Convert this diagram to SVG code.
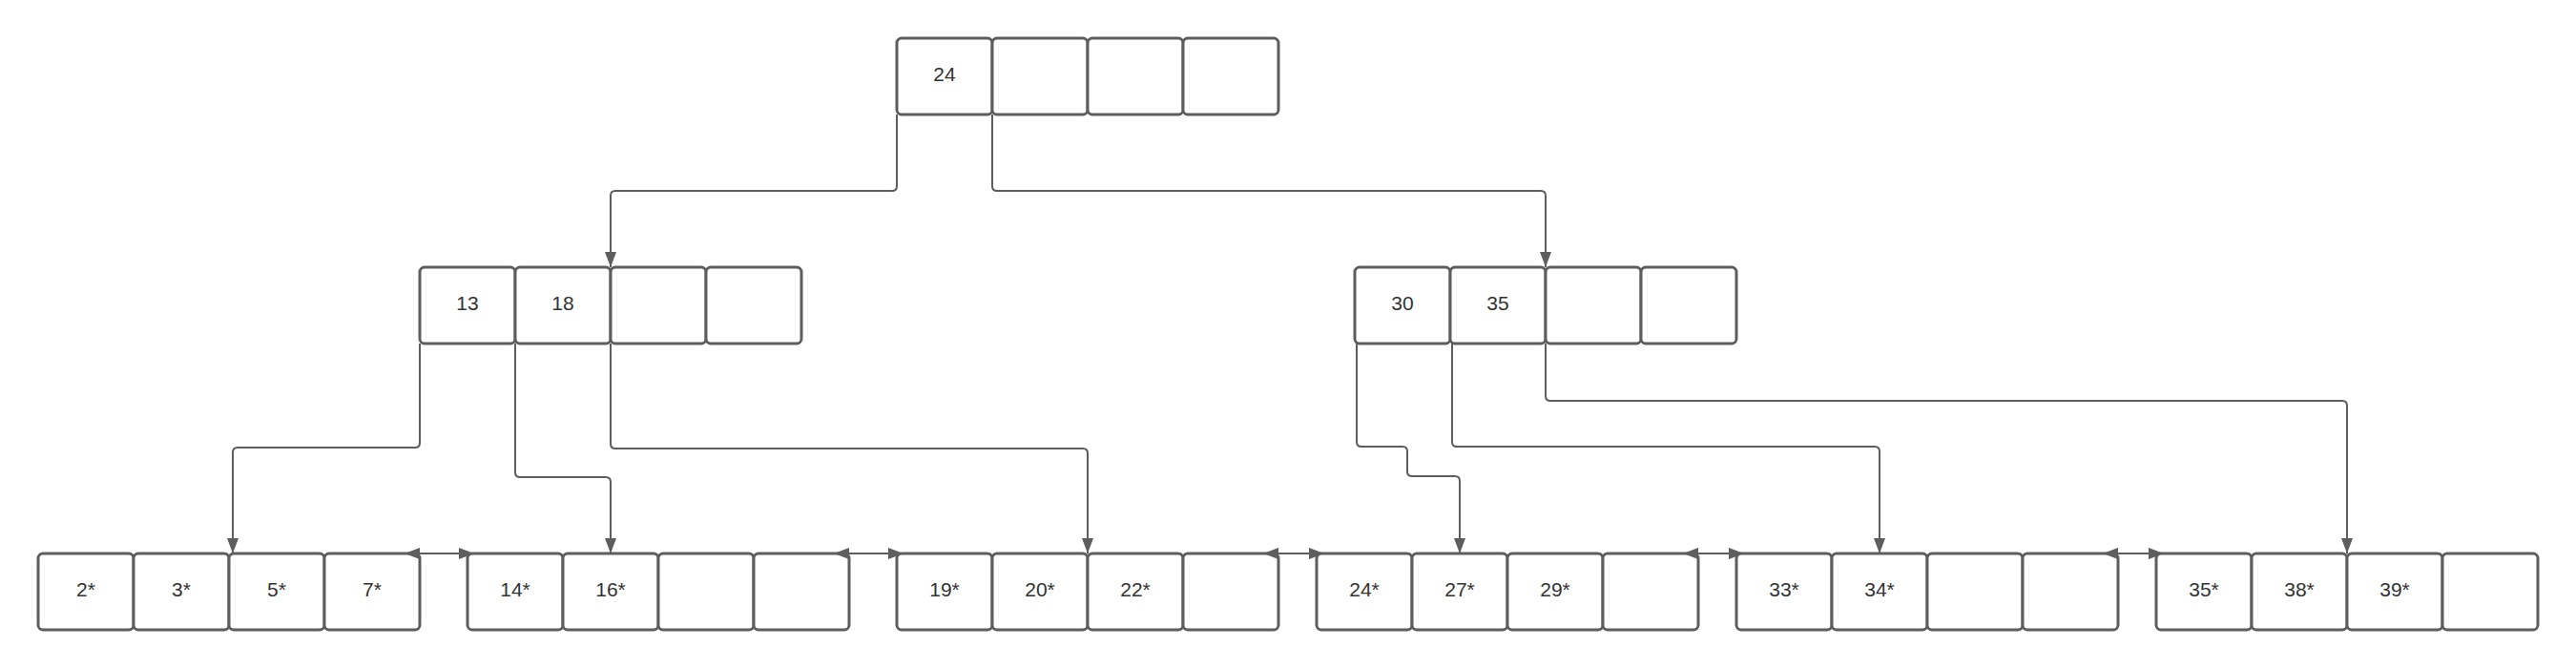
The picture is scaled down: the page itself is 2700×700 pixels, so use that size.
<svg xmlns="http://www.w3.org/2000/svg" width="2700" height="700" viewBox="0 0 2700 700">
<style>
.cell{fill:#ffffff;stroke:#5e5e5e;stroke-width:3}
.lbl{font-family:"Liberation Sans",Arial,sans-serif;font-size:21px;fill:#333333;text-anchor:middle}
.wire{fill:none;stroke:#5e5e5e;stroke-width:2}
</style>
<defs>
<marker id="ah" markerUnits="userSpaceOnUse" markerWidth="18" markerHeight="13" refX="16" refY="6" orient="auto-start-reverse">
<path d="M0,0 L16,6 L0,12 Z" fill="#5e5e5e"/>
</marker>
</defs>
<rect width="2700" height="700" fill="#ffffff"/>
<g id="root">
<rect class="cell" x="940" y="40" width="100" height="80" rx="5"/>
<rect class="cell" x="1040" y="40" width="100" height="80" rx="5"/>
<rect class="cell" x="1140" y="40" width="100" height="80" rx="5"/>
<rect class="cell" x="1240" y="40" width="100" height="80" rx="5"/>
<text class="lbl" x="990" y="85">24</text>
</g>
<g id="inner-left">
<rect class="cell" x="440" y="280" width="100" height="80" rx="5"/>
<rect class="cell" x="540" y="280" width="100" height="80" rx="5"/>
<rect class="cell" x="640" y="280" width="100" height="80" rx="5"/>
<rect class="cell" x="740" y="280" width="100" height="80" rx="5"/>
<text class="lbl" x="490" y="325">13</text>
<text class="lbl" x="590" y="325">18</text>
</g>
<g id="inner-right">
<rect class="cell" x="1420" y="280" width="100" height="80" rx="5"/>
<rect class="cell" x="1520" y="280" width="100" height="80" rx="5"/>
<rect class="cell" x="1620" y="280" width="100" height="80" rx="5"/>
<rect class="cell" x="1720" y="280" width="100" height="80" rx="5"/>
<text class="lbl" x="1470" y="325">30</text>
<text class="lbl" x="1570" y="325">35</text>
</g>
<g id="leaf1">
<rect class="cell" x="40" y="580" width="100" height="80" rx="5"/>
<rect class="cell" x="140" y="580" width="100" height="80" rx="5"/>
<rect class="cell" x="240" y="580" width="100" height="80" rx="5"/>
<rect class="cell" x="340" y="580" width="100" height="80" rx="5"/>
<text class="lbl" x="90" y="625">2*</text>
<text class="lbl" x="190" y="625">3*</text>
<text class="lbl" x="290" y="625">5*</text>
<text class="lbl" x="390" y="625">7*</text>
</g>
<g id="leaf2">
<rect class="cell" x="490" y="580" width="100" height="80" rx="5"/>
<rect class="cell" x="590" y="580" width="100" height="80" rx="5"/>
<rect class="cell" x="690" y="580" width="100" height="80" rx="5"/>
<rect class="cell" x="790" y="580" width="100" height="80" rx="5"/>
<text class="lbl" x="540" y="625">14*</text>
<text class="lbl" x="640" y="625">16*</text>
</g>
<g id="leaf3">
<rect class="cell" x="940" y="580" width="100" height="80" rx="5"/>
<rect class="cell" x="1040" y="580" width="100" height="80" rx="5"/>
<rect class="cell" x="1140" y="580" width="100" height="80" rx="5"/>
<rect class="cell" x="1240" y="580" width="100" height="80" rx="5"/>
<text class="lbl" x="990" y="625">19*</text>
<text class="lbl" x="1090" y="625">20*</text>
<text class="lbl" x="1190" y="625">22*</text>
</g>
<g id="leaf4">
<rect class="cell" x="1380" y="580" width="100" height="80" rx="5"/>
<rect class="cell" x="1480" y="580" width="100" height="80" rx="5"/>
<rect class="cell" x="1580" y="580" width="100" height="80" rx="5"/>
<rect class="cell" x="1680" y="580" width="100" height="80" rx="5"/>
<text class="lbl" x="1430" y="625">24*</text>
<text class="lbl" x="1530" y="625">27*</text>
<text class="lbl" x="1630" y="625">29*</text>
</g>
<g id="leaf5">
<rect class="cell" x="1820" y="580" width="100" height="80" rx="5"/>
<rect class="cell" x="1920" y="580" width="100" height="80" rx="5"/>
<rect class="cell" x="2020" y="580" width="100" height="80" rx="5"/>
<rect class="cell" x="2120" y="580" width="100" height="80" rx="5"/>
<text class="lbl" x="1870" y="625">33*</text>
<text class="lbl" x="1970" y="625">34*</text>
</g>
<g id="leaf6">
<rect class="cell" x="2260" y="580" width="100" height="80" rx="5"/>
<rect class="cell" x="2360" y="580" width="100" height="80" rx="5"/>
<rect class="cell" x="2460" y="580" width="100" height="80" rx="5"/>
<rect class="cell" x="2560" y="580" width="100" height="80" rx="5"/>
<text class="lbl" x="2310" y="625">35*</text>
<text class="lbl" x="2410" y="625">38*</text>
<text class="lbl" x="2510" y="625">39*</text>
</g>
<g id="connectors">
<path class="wire" marker-end="url(#ah)" d="M940,120 V195 Q940,200 935,200 H645 Q640,200 640,205 V280"/>
<path class="wire" marker-end="url(#ah)" d="M1040,120 V195 Q1040,200 1045,200 H1615 Q1620,200 1620,205 V280"/>
<path class="wire" marker-end="url(#ah)" d="M440,360 V464 Q440,469 435,469 H249 Q244,469 244,474 V580"/>
<path class="wire" marker-end="url(#ah)" d="M540,360 V495 Q540,500 545,500 H635 Q640,500 640,505 V580"/>
<path class="wire" marker-end="url(#ah)" d="M640,360 V465 Q640,470 645,470 H1135 Q1140,470 1140,475 V580"/>
<path class="wire" marker-end="url(#ah)" d="M1422,360 V463 Q1422,468 1427,468 H1470 Q1475,468 1475,473 V494 Q1475,499 1480,499 H1525 Q1530,499 1530,504 V580"/>
<path class="wire" marker-end="url(#ah)" d="M1522,360 V463 Q1522,468 1527,468 H1965 Q1970,468 1970,473 V580"/>
<path class="wire" marker-end="url(#ah)" d="M1620,360 V415 Q1620,420 1625,420 H2455 Q2460,420 2460,425 V580"/>
<path class="wire" marker-start="url(#ah)" marker-end="url(#ah)" d="M424,580 H497"/>
<path class="wire" marker-start="url(#ah)" marker-end="url(#ah)" d="M874,580 H947"/>
<path class="wire" marker-start="url(#ah)" marker-end="url(#ah)" d="M1324,580 H1388"/>
<path class="wire" marker-start="url(#ah)" marker-end="url(#ah)" d="M1764,580 H1828"/>
<path class="wire" marker-start="url(#ah)" marker-end="url(#ah)" d="M2204,580 H2268"/>
</g>
</svg>
